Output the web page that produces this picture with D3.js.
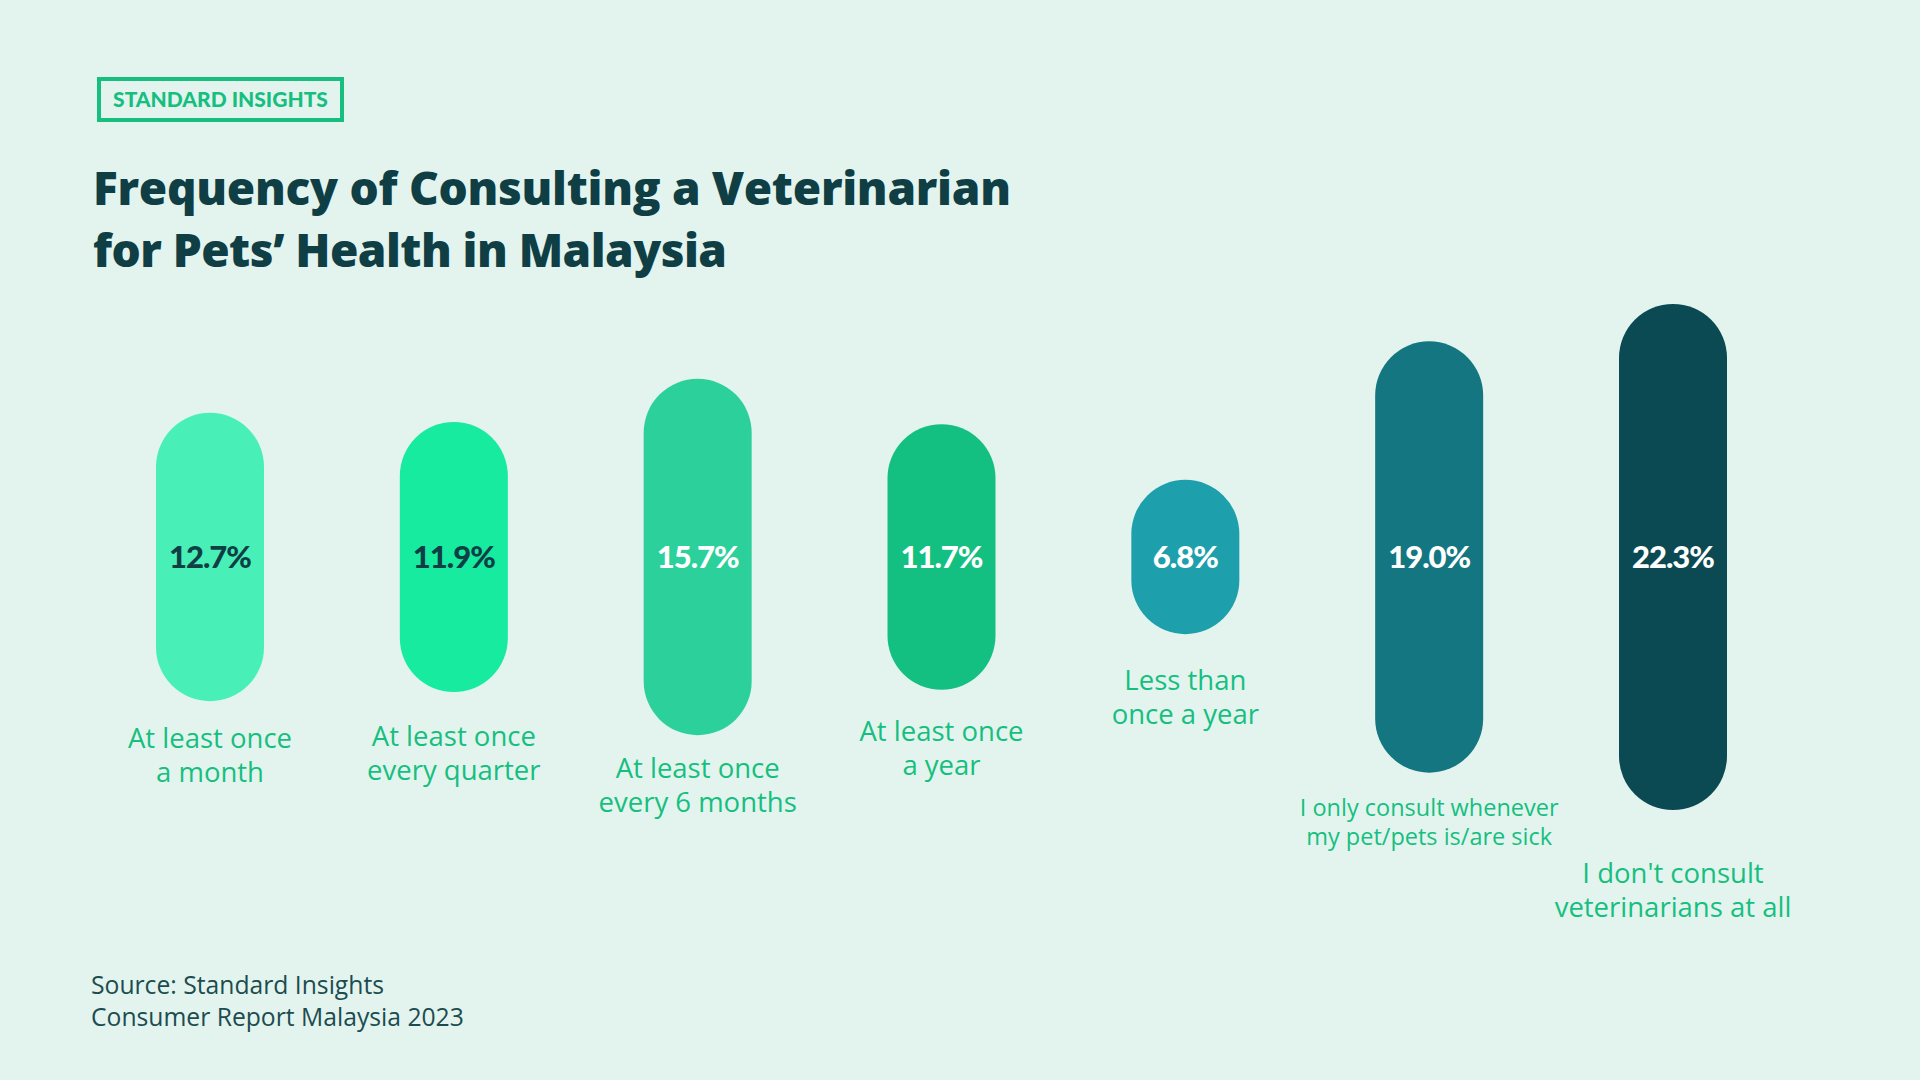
<!DOCTYPE html>
<html>
<head>
<meta charset="utf-8">
<script src="https://cdn.jsdelivr.net/npm/d3@7"></script>
<style>
  html, body { margin: 0; padding: 0; background: #E3F4EE; }
  svg { display: block; }
</style>
</head>
<body>
<svg id="chart" width="1920" height="1080"></svg>
<script>
// ---- data ----
const categories = [
  "At least once a month",
  "At least once every quarter",
  "At least once every 6 months",
  "At least once a year",
  "Less than once a year",
  "I only consult whenever my pet/pets is/are sick",
  "I don't consult veterinarians at all"
];
const labelLines = [
  ["At least once", "a month"],
  ["At least once", "every quarter"],
  ["At least once", "every 6 months"],
  ["At least once", "a year"],
  ["Less than", "once a year"],
  ["I only consult whenever", "my pet/pets is/are sick"],
  ["I don't consult", "veterinarians at all"]
];
const values = [12.7, 11.9, 15.7, 11.7, 6.8, 19.0, 22.3];

// ---- styles ----
const barColors = ["#48F0B7", "#16EBA0", "#2BD09A", "#14BF82", "#1EA0AC", "#137680", "#0B4A52"];
const valueColors = ["#0F3F45", "#0F3F45", "#FFFFFF", "#FFFFFF", "#FFFFFF", "#FFFFFF", "#FFFFFF"];
const labelGap = [37, 44, 33, 42, 46, 35, 63];
const labelSize = [27.5, 27.5, 27.5, 27.5, 27.5, 23.5, 27.5];
const labelLead = [34, 34, 34, 34, 34, 29, 34];

const svg = d3.select("#chart");
const W = 1920, H = 1080;
svg.append("rect").attr("width", W).attr("height", H).attr("fill", "#E3F4EE");

// header box
svg.append("rect").attr("x", 99).attr("y", 79).attr("width", 243).attr("height", 41)
  .attr("fill", "none").attr("stroke", "#16BF80").attr("stroke-width", 4);
svg.append("text").attr("x", 220.5).attr("y", 107).attr("text-anchor", "middle")
  .attr("font-family", "Lato").attr("font-weight", 900).attr("font-size", 21)
  .attr("fill", "#16BF80").text("STANDARD INSIGHTS");

// title
const title = svg.append("text").attr("font-family", "'Open Sans'").attr("font-weight", 800)
  .attr("font-size", 46).attr("fill", "#0F3F45");
title.append("tspan").attr("x", 93).attr("y", 205)
  .attr("textLength", 918).attr("lengthAdjust", "spacing")
  .text("Frequency of Consulting a Veterinarian");
title.append("tspan").attr("x", 93).attr("y", 267)
  .attr("textLength", 634).attr("lengthAdjust", "spacing")
  .text("for Pets\u2019 Health in Malaysia");

// scales
const x = d3.scalePoint().domain(categories).range([210, 1673]);
const h = d3.scaleLinear().domain([0, 10]).range([0, 227]);
const midY = 557;
const barW = 108;

const g = svg.append("g");
const bars = g.selectAll("g.bar").data(categories).join("g").attr("class", "bar");

bars.append("rect")
  .attr("x", d => x(d) - barW / 2)
  .attr("y", (d, i) => midY - h(values[i]) / 2)
  .attr("width", barW)
  .attr("height", (d, i) => h(values[i]))
  .attr("rx", barW / 2).attr("ry", barW / 2)
  .attr("fill", (d, i) => barColors[i]);

bars.append("text")
  .attr("x", d => x(d))
  .attr("y", midY)
  .attr("dy", "0.35em")
  .attr("text-anchor", "middle")
  .attr("font-family", "Lato").attr("font-weight", 900).attr("font-size", 31)
  .attr("letter-spacing", -1)
  .attr("fill", (d, i) => valueColors[i])
  .text((d, i) => d3.format(".1f")(values[i]) + "%");

const labels = bars.append("text")
  .attr("text-anchor", "middle")
  .attr("font-family", "'Open Sans'").attr("font-weight", 500)
  .attr("font-size", (d, i) => labelSize[i])
  .attr("fill", "#16BF80");
labels.each(function (d, i) {
  const t = d3.select(this);
  const y0 = midY + h(values[i]) / 2 + labelGap[i];
  labelLines[i].forEach((ln, j) => {
    t.append("tspan").attr("x", x(d)).attr("y", y0 + j * labelLead[i]).attr("dy", "0.35em").text(ln);
  });
});

// source
const src = svg.append("text").attr("font-family", "'Open Sans'").attr("font-size", 24.7).attr("fill", "#1C4C50");
src.append("tspan").attr("x", 91).attr("y", 985).attr("dy", "0.35em").text("Source: Standard Insights");
src.append("tspan").attr("x", 91).attr("y", 1017).attr("dy", "0.35em").text("Consumer Report Malaysia 2023");
</script>
</body>
</html>
